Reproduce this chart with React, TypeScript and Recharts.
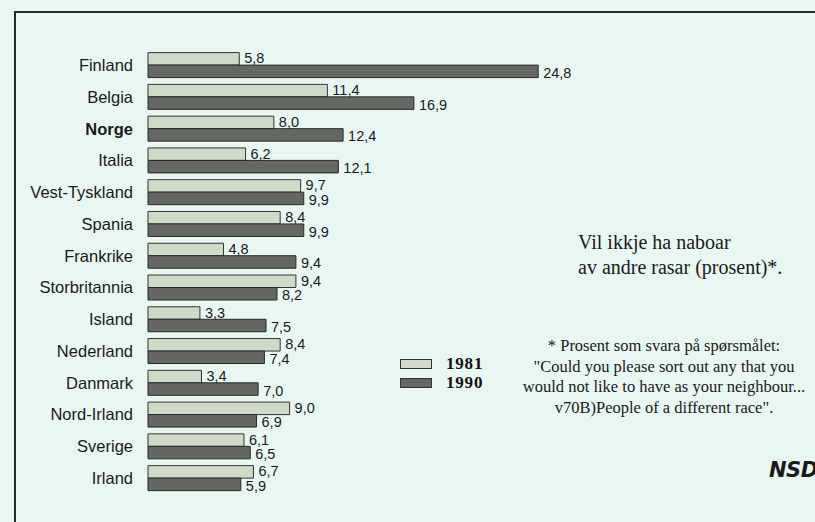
import React from "react";
import { BarChart, Bar, XAxis, YAxis, LabelList } from "recharts";

const countries = [
  "Finland", "Belgia", "Norge", "Italia", "Vest-Tyskland", "Spania", "Frankrike",
  "Storbritannia", "Island", "Nederland", "Danmark", "Nord-Irland", "Sverige", "Irland",
];
const values1981 = [5.8, 11.4, 8.0, 6.2, 9.7, 8.4, 4.8, 9.4, 3.3, 8.4, 3.4, 9.0, 6.1, 6.7];
const values1990 = [24.8, 16.9, 12.4, 12.1, 9.9, 9.9, 9.4, 8.2, 7.5, 7.4, 7.0, 6.9, 6.5, 5.9];
const seriesNames = ["1981", "1990"];
const boldCountry = "Norge";

const data = countries.map((c, i) => ({ country: c, y1981: values1981[i], y1990: values1990[i] }));

const BG = "#e8f7f2";
const LIGHT = "#d0dac8";
const DARK = "#656763";

const fmt = (v: number) => v.toFixed(1).replace(".", ",");

const CountryTick = (props: any) => {
  const { x, y, payload } = props;
  const bold = payload.value === boldCountry;
  return (
    <text
      x={x - 7}
      y={y}
      dy={5.5}
      textAnchor="end"
      fontFamily="'Liberation Sans', Arial, sans-serif"
      fontSize={16.5}
      fontWeight={bold ? 700 : 400}
      fill="#1a1a1a"
    >
      {payload.value}
    </text>
  );
};

const makeLabel = (dyOffset: number) => (props: any) => {
  const { x, y, width, height, value } = props;
  return (
    <text
      x={x + width + 5}
      y={y + height / 2 + dyOffset}
      fontFamily="'Liberation Sans', Arial, sans-serif"
      fontSize={14.5}
      fill="#1a1a1a"
    >
      {fmt(value)}
    </text>
  );
};

export default function App() {
  return (
    <div style={{ position: "absolute", left: 0, top: 0, width: 815, height: 522, background: BG, overflow: "hidden" }}>
      <div
        style={{
          position: "absolute",
          left: 14,
          top: 11,
          width: 900,
          height: 700,
          borderLeft: "2px solid #2a2a2a",
          borderTop: "2px solid #2a2a2a",
        }}
      />
      <div style={{ position: "absolute", left: 0, top: 0 }}>
        <BarChart
          width={620}
          height={522}
          data={data}
          layout="vertical"
          margin={{ top: 49.6, right: 0, bottom: 27.6, left: 0 }}
          barGap={0}
          barSize={12.5}
        >
          <XAxis type="number" domain={[0, 30]} hide />
          <YAxis
            type="category"
            dataKey="country"
            width={148}
            axisLine={false}
            tickLine={false}
            tick={<CountryTick />}
            interval={0}
          />
          <Bar dataKey="y1981" name="1981" fill={LIGHT} stroke="#333" strokeWidth={1} isAnimationActive={false}>
            <LabelList dataKey="y1981" content={makeLabel(4.5)} />
          </Bar>
          <Bar dataKey="y1990" name="1990" fill={DARK} stroke="#2a2a2a" strokeWidth={1} isAnimationActive={false}>
            <LabelList dataKey="y1990" content={makeLabel(6.5)} />
          </Bar>
        </BarChart>
      </div>
      <div
        style={{
          position: "absolute",
          left: 400,
          top: 354.5,
          fontFamily: "'Liberation Serif', 'Times New Roman', serif",
          fontWeight: 700,
          fontSize: 17,
        }}
      >
        {seriesNames.map((n, i) => (
          <div key={n} style={{ display: "flex", alignItems: "center", height: 19 }}>
            <div
              style={{
                width: 30,
                height: 8,
                background: i === 0 ? LIGHT : DARK,
                border: "1px solid #333",
                marginRight: 14,
              }}
            />
            <span style={{ color: "#111", letterSpacing: 0.8 }}>{n}</span>
          </div>
        ))}
      </div>
      <div
        style={{
          position: "absolute",
          left: 578,
          top: 230,
          fontFamily: "'Liberation Serif', 'Times New Roman', serif",
          fontSize: 20,
          lineHeight: "25px",
          color: "#1a1a1a",
        }}
      >
        Vil ikkje ha naboar
        <br />
        av andre rasar (prosent)*.
      </div>
      <div
        style={{
          position: "absolute",
          left: 504,
          width: 320,
          top: 336,
          textAlign: "center",
          fontFamily: "'Liberation Serif', 'Times New Roman', serif",
          fontSize: 16.5,
          lineHeight: "20.7px",
          color: "#1a1a1a",
        }}
      >
        * Prosent som svara på spørsmålet:
        <br />
        "Could you please sort out any that you
        <br />
        would not like to have as your neighbour...
        <br />
        v70B)People of a different race".
      </div>
      <div
        style={{
          position: "absolute",
          left: 769,
          top: 458,
          fontFamily: "'DejaVu Sans', Arial, sans-serif",
          fontWeight: 900,
          fontStyle: "italic",
          fontSize: 21,
          color: "#1a1a1a",
          letterSpacing: -0.5,
        }}
      >
        NSD
      </div>
    </div>
  );
}
